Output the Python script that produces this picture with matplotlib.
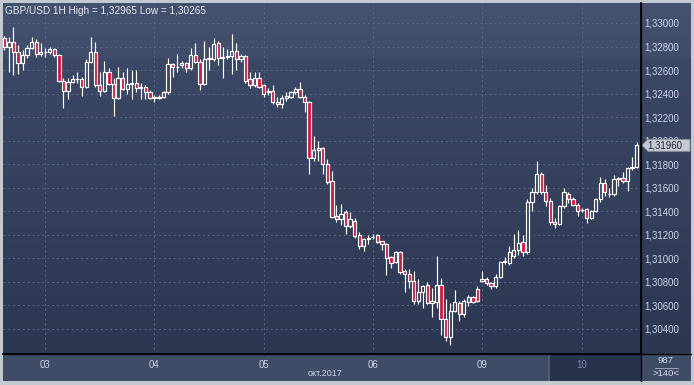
import numpy as np
import matplotlib.pyplot as plt
from matplotlib.patches import Rectangle, Polygon
from matplotlib.lines import Line2D

# GBP/USD hourly candles
opens = [1.3287, 1.3280, 1.3284, 1.3275, 1.3266, 1.3273, 1.3279, 1.3284, 1.3274, 1.3275,
         1.3275, 1.3278, 1.3273, 1.3251, 1.3242, 1.3250, 1.3252, 1.3252, 1.3246, 1.3267,
         1.3275, 1.3247, 1.3242, 1.3258, 1.3248, 1.3236, 1.3253, 1.3244, 1.3248, 1.3249,
         1.3245, 1.3246, 1.3241, 1.3237, 1.3236, 1.3237, 1.3241, 1.3265, 1.3263, 1.3264,
         1.3266, 1.3262, 1.3273, 1.3267, 1.3248, 1.3269, 1.3269, 1.3283, 1.3270, 1.3271,
         1.3272, 1.3276, 1.3269, 1.3272, 1.3252, 1.3247, 1.3253, 1.3247, 1.3241, 1.3242,
         1.3233, 1.3231, 1.3236, 1.3237, 1.3241, 1.3244, 1.3237, 1.3233, 1.3185, 1.3192,
         1.3194, 1.3180, 1.3166, 1.3136, 1.3133, 1.3139, 1.3127, 1.3132, 1.3120, 1.3110,
         1.3116, 1.3118, 1.3120, 1.3115, 1.3112, 1.3101, 1.3097, 1.3105, 1.3089, 1.3087,
         1.3081, 1.3064, 1.3071, 1.3077, 1.3062, 1.3063, 1.3077, 1.3048, 1.3033, 1.3055,
         1.3062, 1.3053, 1.3063, 1.3067, 1.3074, 1.3081, 1.3082, 1.3079, 1.3076, 1.3084,
         1.3097, 1.3096, 1.3102, 1.3107, 1.3114, 1.3105, 1.3148, 1.3156, 1.3172, 1.3156,
         1.3149, 1.3131, 1.3129, 1.3144, 1.3155, 1.3150, 1.3145, 1.3141, 1.3142, 1.3134,
         1.3140, 1.3150, 1.3164, 1.3155, 1.3155, 1.3167, 1.3168, 1.3166, 1.3177, 1.3178]
highs = [1.3289, 1.3288, 1.32965, 1.3281, 1.3277, 1.3281, 1.3288, 1.3286, 1.3283, 1.3279,
         1.3280, 1.3279, 1.3274, 1.3253, 1.3253, 1.3256, 1.3258, 1.3254, 1.3269, 1.3288,
         1.3284, 1.3258, 1.3268, 1.3262, 1.3253, 1.3263, 1.3258, 1.3262, 1.3260, 1.3260,
         1.3249, 1.3247, 1.3243, 1.3239, 1.3239, 1.3242, 1.3270, 1.3266, 1.3274, 1.3268,
         1.3267, 1.3279, 1.3283, 1.3269, 1.3285, 1.3280, 1.3287, 1.3285, 1.3280, 1.3278,
         1.3291, 1.3283, 1.3274, 1.3273, 1.3258, 1.3258, 1.3258, 1.3248, 1.3245, 1.3247,
         1.3237, 1.3239, 1.3241, 1.3242, 1.3246, 1.3250, 1.3239, 1.3234, 1.3204, 1.3200,
         1.3195, 1.3184, 1.3174, 1.3145, 1.3146, 1.3141, 1.3139, 1.3134, 1.3122, 1.3117,
         1.3120, 1.3121, 1.3121, 1.3115, 1.3113, 1.3102, 1.3106, 1.3106, 1.3091, 1.3091,
         1.3089, 1.3082, 1.3077, 1.3080, 1.3075, 1.3102, 1.3083, 1.3065, 1.3062, 1.3073,
         1.3064, 1.3065, 1.3069, 1.3068, 1.3076, 1.3089, 1.3084, 1.3080, 1.3087, 1.3098,
         1.3101, 1.3110, 1.3121, 1.3124, 1.3120, 1.3150, 1.3160, 1.3183, 1.3173, 1.3162,
         1.3151, 1.3134, 1.3145, 1.3160, 1.3156, 1.3152, 1.3147, 1.3143, 1.3143, 1.3141,
         1.3151, 1.3169, 1.3167, 1.3160, 1.3171, 1.3169, 1.3173, 1.3178, 1.3186, 1.3199]
lows = [1.3277, 1.3258, 1.3256, 1.3257, 1.3260, 1.3270, 1.3278, 1.3271, 1.3272, 1.3271,
        1.3274, 1.3271, 1.3250, 1.3228, 1.3235, 1.3249, 1.3249, 1.3238, 1.3245, 1.3266,
        1.3246, 1.3238, 1.3241, 1.3247, 1.3221, 1.3235, 1.3243, 1.3240, 1.3235, 1.3241,
        1.3235, 1.3235, 1.3235, 1.3233, 1.3235, 1.3236, 1.3240, 1.3254, 1.3258, 1.3262,
        1.3258, 1.3260, 1.3266, 1.3243, 1.3247, 1.3260, 1.3268, 1.3264, 1.3253, 1.3269,
        1.3257, 1.3260, 1.3267, 1.3249, 1.3245, 1.3246, 1.3245, 1.3237, 1.3239, 1.3231,
        1.3229, 1.3228, 1.3234, 1.3236, 1.3240, 1.3236, 1.3224, 1.3172, 1.3183, 1.3183,
        1.3172, 1.3163, 1.3134, 1.3131, 1.3128, 1.3121, 1.3126, 1.3117, 1.3108, 1.3106,
        1.3112, 1.3116, 1.3113, 1.3107, 1.3086, 1.3092, 1.3096, 1.3087, 1.3071, 1.3075,
        1.3061, 1.3061, 1.3058, 1.3061, 1.3050, 1.3058, 1.3035, 1.3030, 1.30265, 1.3054,
        1.3047, 1.3050, 1.3059, 1.3062, 1.3063, 1.3080, 1.3077, 1.3074, 1.3075, 1.3083,
        1.3095, 1.3094, 1.3100, 1.3103, 1.3102, 1.3104, 1.3140, 1.3155, 1.3155, 1.3144,
        1.3128, 1.3126, 1.3128, 1.3143, 1.3147, 1.3144, 1.3136, 1.3139, 1.3130, 1.3133,
        1.3139, 1.3148, 1.3153, 1.3152, 1.3153, 1.3161, 1.3164, 1.3157, 1.3175, 1.3177]
closes = [1.3280, 1.3284, 1.3275, 1.3266, 1.3273, 1.3279, 1.3284, 1.3274, 1.3275, 1.3275,
          1.3278, 1.3273, 1.3251, 1.3242, 1.3250, 1.3252, 1.3252, 1.3246, 1.3267, 1.3275,
          1.3247, 1.3242, 1.3258, 1.3248, 1.3236, 1.3253, 1.3244, 1.3248, 1.3249, 1.3245,
          1.3246, 1.3241, 1.3236, 1.3236, 1.3237, 1.3241, 1.3265, 1.3263, 1.3263, 1.3266,
          1.3262, 1.3273, 1.3267, 1.3248, 1.3269, 1.3270, 1.3282, 1.3270, 1.3271, 1.3272,
          1.3276, 1.3269, 1.3272, 1.3251, 1.3247, 1.3253, 1.3246, 1.3240, 1.3242, 1.3233,
          1.3231, 1.3236, 1.3238, 1.3241, 1.3244, 1.3237, 1.3233, 1.3185, 1.3192, 1.3194,
          1.3180, 1.3165, 1.3135, 1.3133, 1.3138, 1.3127, 1.3133, 1.3119, 1.3110, 1.3116,
          1.3117, 1.3118, 1.3114, 1.3112, 1.3100, 1.3096, 1.3105, 1.3088, 1.3087, 1.3081,
          1.3064, 1.3071, 1.3076, 1.3062, 1.3064, 1.3077, 1.3048, 1.3033, 1.3055, 1.3063,
          1.3053, 1.3064, 1.3067, 1.3063, 1.3064, 1.3082, 1.3079, 1.3076, 1.3084, 1.3097,
          1.3098, 1.3105, 1.3107, 1.3113, 1.3105, 1.3148, 1.3156, 1.3172, 1.3156, 1.3149,
          1.3131, 1.3129, 1.3144, 1.3156, 1.3150, 1.3145, 1.3140, 1.3141, 1.3134, 1.3140,
          1.3150, 1.3164, 1.3156, 1.3155, 1.3167, 1.3168, 1.3166, 1.3177, 1.3178, 1.3196]

day_start = [9, 33, 57, 81, 105, 127]
day_labels = ["03", "04", "05", "06", "09", "10"]
price_ticks = [1.304, 1.306, 1.308, 1.310, 1.312, 1.314, 1.316,
               1.318, 1.320, 1.322, 1.324, 1.326, 1.328, 1.330]
title = "GBP/USD 1H High = 1,32965 Low = 1,30265"
month_label = "окт.2017"
corner_top, corner_bottom = "987", ">140<"

plt.rcParams["font.family"] = ["Liberation Sans", "DejaVu Sans"]
W, H = 694, 385
fig = plt.figure(figsize=(W / 100, H / 100), dpi=100, facecolor="#c2c9d1")


def px_box(x0, y0, x1, y1):
    return [x0 / W, 1 - y1 / H, (x1 - x0) / W, (y1 - y0) / H]


def hexrgb(h):
    return np.array([int(h[i:i + 2], 16) for i in (1, 3, 5)]) / 255


# background gradient behind chart and price panel
bg = fig.add_axes(px_box(3, 3, 691, 354), zorder=0)
rows = np.linspace(0, 1, 351)
stops = [0.0, 0.155, 0.158, 1.0]
cols = [hexrgb(c) for c in ["#45526f", "#404d6a", "#3b4865", "#2c3752"]]
grad = np.stack([np.interp(rows, stops, [c[k] for c in cols]) for k in range(3)], axis=-1)
bg.imshow(grad[:, None, :], aspect="auto", extent=[0, 1, 0, 1])
bg.set_axis_off()

# time axis panel
tp = fig.add_axes(px_box(3, 354, 641, 381), zorder=0)
tp.set_facecolor("#3f4c68")
tp.set_xlim(0, 638)
tp.set_ylim(0, 1)
tp.add_patch(Rectangle((546, 0), 92, 1, facecolor="#27324c", edgecolor="none"))
tp.axvline(546, color="#5c6272", lw=1.2)
tp.set_xticks([])
tp.set_yticks([])
for s in tp.spines.values():
    s.set_visible(False)

# corner panel
cp = fig.add_axes(px_box(641, 354, 691, 381), zorder=0)
cp.set_facecolor("#3f4c68")
cp.set_xlim(0, 1)
cp.set_ylim(0, 1)
cp.set_xticks([])
cp.set_yticks([])
for s in cp.spines.values():
    s.set_visible(False)
cp.text(0.5, 0.76, corner_top, ha="center", va="center", color="#d4dcec", fontsize=6.8)
cp.text(0.5, 0.27, corner_bottom, ha="center", va="center", color="#d4dcec", fontsize=6.8)
cp.add_line(Line2D([0.28, 0.74], [0.5, 0.5], color="#a8b2c4", lw=0.6))

# main chart
ax = fig.add_axes(px_box(3, 3, 641, 354), zorder=1)
ax.set_facecolor("none")

o, h, l, c = map(np.array, (opens, highs, lows, closes))
x = np.arange(len(o))
up = c >= o
top = np.maximum(o, c)
bot = np.minimum(o, c)
red = "#e3123c"
ax.vlines(x, top, h, color="white", lw=0.85, zorder=3)
ax.vlines(x, l, bot, color="white", lw=0.85, zorder=3)
ax.bar(x, np.maximum(top - bot, 1e-6), bottom=bot, width=0.72,
       color=[("none" if u else red) for u in up], edgecolor="white",
       linewidth=0.85, zorder=4)

ymin, ymax = 1.30186, 1.33170
ax.set_xlim(-0.29, 139.95)
ax.set_ylim(ymin, ymax)
ax.set_yticks(price_ticks)
ax.set_yticklabels([f"{v:.5f}".replace(".", ",") for v in price_ticks])
ax.yaxis.tick_right()
ax.set_xticks(day_start)
ax.set_xticklabels(day_labels)
ax.tick_params(axis="y", length=0, pad=2.3, labelcolor="#cdd6ec", labelsize=6.9)
ax.tick_params(axis="x", length=0, pad=4.2, labelcolor="#cdd6ec", labelsize=6.9)
ax.get_xticklabels()[-1].set_color("#7d8baa")
ax.grid(True, ls=(0, (2, 3)), color="#56648a", lw=0.7)
ax.set_axisbelow(True)
for s in ["top", "left"]:
    ax.spines[s].set_visible(False)
for s in ["right", "bottom"]:
    ax.spines[s].set_color("black")
    ax.spines[s].set_linewidth(1.2)

ax.text(2 / 638, 1 - 7.5 / 351, title, transform=ax.transAxes, ha="left",
        va="center", color="#e6eaf2", fontsize=7.2, zorder=6)

# last price tag
yf = (c[-1] - ymin) / (ymax - ymin)
hh = 6 / 351
tag = Polygon([(1 + 1 / 638, yf), (1 + 7 / 638, yf + hh), (1 + 49 / 638, yf + hh),
               (1 + 49 / 638, yf - hh), (1 + 7 / 638, yf - hh)],
              closed=True, transform=ax.transAxes, clip_on=False,
              facecolor="#c6cad2", edgecolor="#8a909c", lw=0.6, zorder=7)
ax.add_patch(tag)
ax.text(1 + 6.5 / 638, yf, f"{c[-1]:.5f}".replace(".", ","), transform=ax.transAxes,
        ha="left", va="center", color="#1e2430", fontsize=6.9, zorder=8, clip_on=False)

# black separator lines running into the corner
fig.add_artist(Line2D([641 / W, 641 / W], [1 - 381 / H, 1 - 3 / H], color="black", lw=0.9))
fig.add_artist(Line2D([3 / W, 691 / W], [1 - 354 / H, 1 - 354 / H], color="black", lw=0.9))

fig.text(325 / W, 1 - 373.5 / H, month_label, ha="center", va="center",
         color="#cdd6ec", fontsize=6.4)

fig.savefig("out.png", dpi=100, facecolor=fig.get_facecolor())
